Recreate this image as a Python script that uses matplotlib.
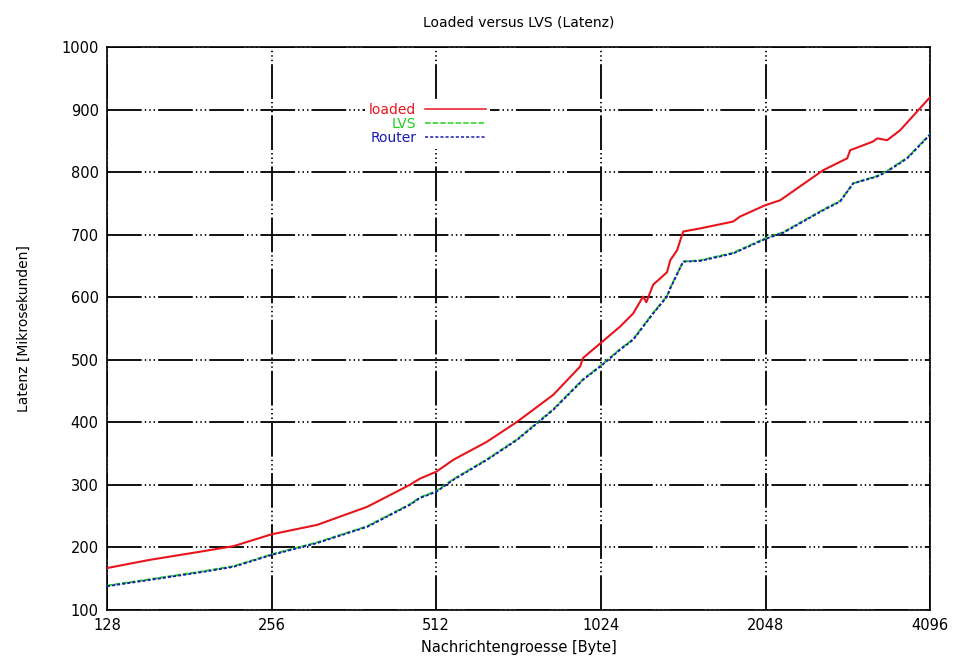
import matplotlib
matplotlib.use("Agg")
import matplotlib.pyplot as plt

plt.rcParams['font.family'] = ['DejaVu Sans']
plt.rcParams['lines.scale_dashes'] = False

# message sizes (bytes) and latencies (microseconds)
loaded_x = [128, 153, 189, 218, 256, 310, 383, 458, 478, 512, 550, 634, 720,
            838, 938, 950, 1024, 1110, 1173, 1223, 1240, 1276, 1353, 1371,
            1411, 1448, 1555, 1787, 1840, 2044, 2178, 2610, 2888, 2925, 3222,
            3277, 3417, 3610, 4096]
loaded_y = [167, 180, 193, 202, 221, 236, 265, 300, 310, 321, 340, 369, 401,
            444, 489, 503, 527, 553, 574, 601, 592, 620, 640, 659,
            675, 705, 710, 721, 729, 747, 755, 803, 822, 835, 849,
            854, 851, 867, 920]

lvs_x = [128, 153, 189, 218, 256, 310, 383, 458, 478, 512, 550, 634, 720,
         838, 950, 1024, 1110, 1173, 1276, 1353, 1371, 1448, 1555, 1787,
         1840, 2044, 2206, 2610, 2804, 2962, 3277, 3417, 3718, 4096]
lvs_y = [139, 149, 161, 170, 189, 208, 234, 269, 280, 290, 309, 341, 373,
         421, 469, 491, 517, 533, 575, 602, 615, 657, 659, 671,
         676, 694, 704, 740, 754, 782, 794, 802, 823, 861]

router_x = [128, 153, 189, 218, 256, 310, 383, 458, 478, 512, 550, 634, 720,
            838, 950, 1024, 1110, 1173, 1276, 1353, 1371, 1448, 1555, 1787,
            1840, 2044, 2206, 2610, 2804, 2962, 3277, 3417, 3718, 4096]
router_y = [138, 148, 160, 169, 188, 207, 233, 268, 279, 289, 308, 340, 372,
            420, 468, 490, 516, 532, 574, 601, 614, 657, 658, 670,
            675, 693, 703, 739, 753, 782, 793, 801, 822, 860]

x_ticks = [128, 256, 512, 1024, 2048, 4096]
x_labels = ['128', '256', '512', '1024', '2048', '4096']
y_ticks = [100, 200, 300, 400, 500, 600, 700, 800, 900, 1000]

fig = plt.figure(figsize=(9.55, 6.67), dpi=100)
ax = fig.add_axes([0.112, 0.0855, 0.862, 0.844])

ax.plot(loaded_x, loaded_y, color='#e8141c', lw=1.5, label='loaded', zorder=3)
ax.plot(lvs_x, lvs_y, color='#22d01e', lw=1.4, ls=(0, (4, 1.5)), label='LVS', zorder=3)
ax.plot(router_x, router_y, color='#1a1ab4', lw=1.4, ls=(0, (2.2, 1.5)), label='Router', zorder=4)

ax.set_xscale('log', base=2)
ax.set_xlim(128, 4096)
ax.set_ylim(100, 1000)
ax.set_xticks(x_ticks)
ax.set_xticklabels(x_labels)
ax.minorticks_off()
ax.set_yticks(y_ticks)
ax.tick_params(length=0, labelsize=10.5, pad=6)

grid_ls = (0, (25, 2.2, 1, 2.2, 1, 2.2, 1, 2.2))
ax.grid(True, color='#111111', lw=1.4, ls=grid_ls, zorder=1)
for s in ax.spines.values():
    s.set_linewidth(1.2)

ax.set_title('Loaded versus LVS (Latenz)', fontsize=10, pad=15)
ax.set_xlabel('Nachrichtengroesse [Byte]', fontsize=10.5, labelpad=5)
ax.set_ylabel('Latenz [Mikrosekunden]', fontsize=10, labelpad=22)

leg = ax.legend(loc='upper left', bbox_to_anchor=(0.305, 0.92), markerfirst=False,
                labelcolor='linecolor', fontsize=10, handlelength=4.4,
                frameon=True, framealpha=1, facecolor='white', edgecolor='none',
                fancybox=False, borderpad=0.3, labelspacing=0.0, handletextpad=0.6)
for line in leg.get_lines():
    line.set_linewidth(1.1)
leg.set_zorder(5)

fig.savefig('out.png', dpi=100)
